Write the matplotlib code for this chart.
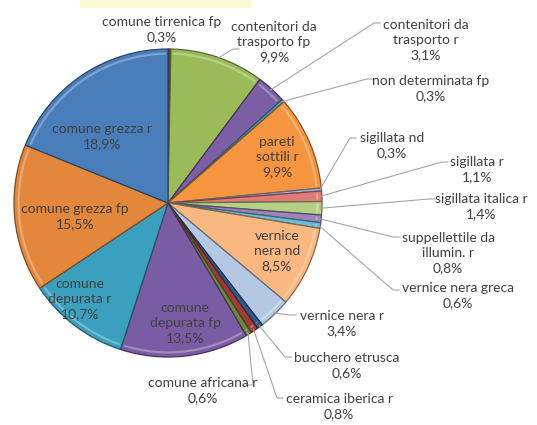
import numpy as np
import matplotlib
matplotlib.use("Agg")
import matplotlib.pyplot as plt
from matplotlib.patches import Rectangle, Arc
from matplotlib.colors import to_rgb

# data, clockwise from 12 o'clock
labels = ['comune tirrenica fp', 'contenitori da\ntrasporto fp', 'contenitori da\ntrasporto r',
          'non determinata fp', 'pareti\nsottili r', 'sigillata nd', 'sigillata r',
          'sigillata italica r', 'suppellettile da\nillumin. r', 'vernice nera greca',
          'vernice\nnera nd', 'vernice nera r', 'bucchero etrusca', 'ceramica iberica r',
          'comune africana r', 'comune\ndepurata fp', 'comune\ndepurata r',
          'comune grezza fp', 'comune grezza r']
pct = [0.3, 9.9, 3.1, 0.3, 9.9, 0.3, 1.1, 1.4, 0.8, 0.6, 8.5, 3.4, 0.6, 0.8, 0.6,
       13.5, 10.7, 15.5, 18.9]
colors = ['#8b2b28', '#9bbb59', '#7d5fa6', '#41a5c2', '#f5953f', '#a8bde0', '#e07a78',
          '#b5cf84', '#9b85bb', '#6bbcd4', '#f9b880', '#b4c8e4', '#2d5b8e', '#a23b38',
          '#6a8a35', '#7a5ca4', '#3aa0bd', '#e3873c', '#4a7ebb']

# layout: label centre in pixels, elbow point of leader (None = no leader)
CX, CY, R = 168, 203, 154
label_pos = [(162, 30, None), (274, 42, (233, 49)), (426, 40, (374, 23)),
             (431, 89, (367, 79)), (277, 157, None), (392, 146, (350, 138)),
             (477, 170, (442, 162)), (481, 207, (429, 199)), (448, 253, (393, 237)),
             (458, 296, (393, 290)), (277, 251, None), (342, 324, (290, 315)),
             (347, 366, (285, 357)), (339, 407, (277, 398)), (203, 391, (253, 385)),
             (185, 323, None), (80, 299, None), (75, 217, None), (102, 137, None)]


def px(x, y):
    return (x - CX) / R, (CY - y) / R


fig = plt.figure(figsize=(5.37, 4.25), dpi=100)
ax = fig.add_axes([0, 0, 1, 1])

fig.patches.append(Rectangle((80 / 537, 1 - 7 / 425), 170 / 537, 7 / 425,
                             transform=fig.transFigure, color='#fcf9d6', zorder=0))

edges = [tuple(c * 0.55 for c in to_rgb(col)) for col in colors]
wedges, _ = ax.pie(pct, colors=colors, startangle=90, counterclock=False, radius=1,
                   wedgeprops=dict(linewidth=0.9))
for w, e in zip(wedges, edges):
    w.set_edgecolor(e)
    # soft bevel highlight along the rim of each slice
    if w.theta2 - w.theta1 > 2:
        ax.add_patch(Arc((0, 0), 1.94, 1.94, theta1=w.theta1 + 0.8, theta2=w.theta2 - 0.8,
                         color='white', alpha=0.3, lw=1.5))

ax.set_xlim(-CX / R, (537 - CX) / R)
ax.set_ylim(-(425 - CY) / R, CY / R)
ax.set_aspect('equal')
ax.axis('off')

for w, lab, p, (lx, ly, elbow) in zip(wedges, labels, pct, label_pos):
    txt = lab + '\n' + ('%.1f%%' % p).replace('.', ',')
    tx, ty = px(lx, ly)
    ax.text(tx, ty, txt, ha='center', va='center', fontsize=10, color='#404040',
            family='Lato', linespacing=1.33, zorder=5)
    if elbow is not None:
        ang = np.deg2rad((w.theta1 + w.theta2) / 2)
        sx, sy = 0.99 * np.cos(ang), 0.99 * np.sin(ang)
        ex, ey = px(*elbow)
        hx = ex + (0.04 if tx > ex else -0.04)
        ax.plot([sx, ex, hx], [sy, ey, ey], color='#a6a6a6', lw=0.8, zorder=4)

fig.savefig('out.png', dpi=100, facecolor='white')
